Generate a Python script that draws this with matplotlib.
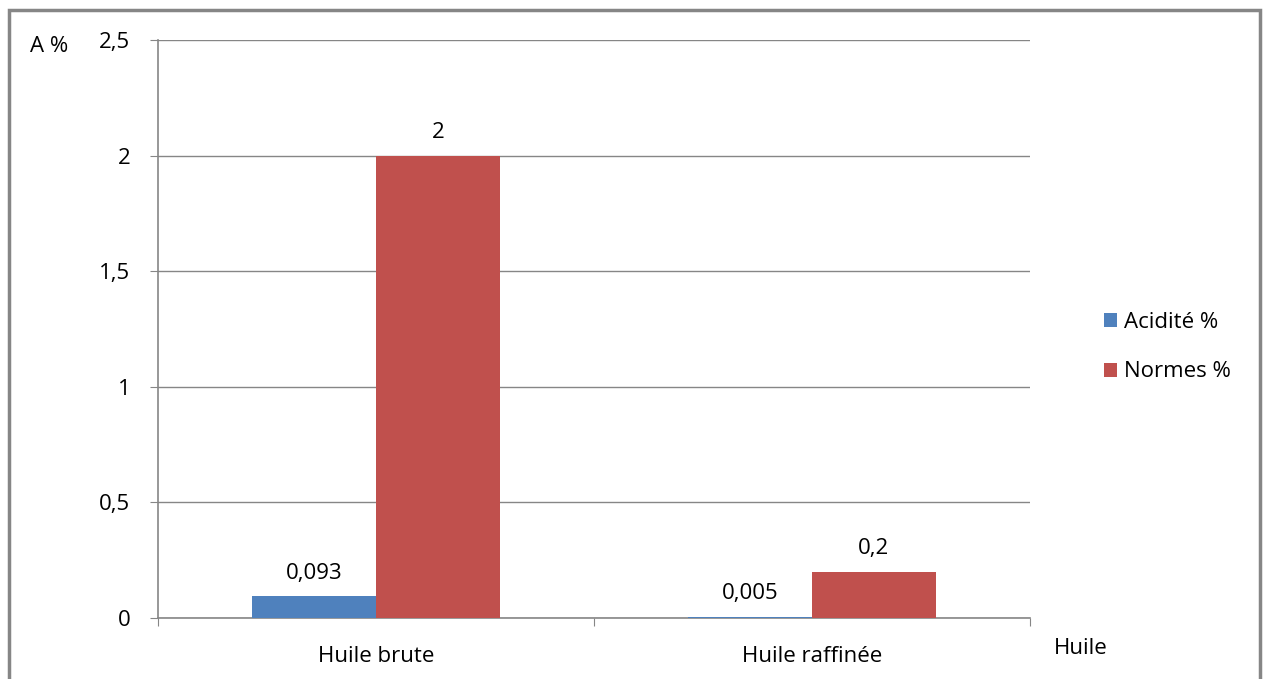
import matplotlib.pyplot as plt
from matplotlib.patches import Rectangle
import numpy as np

plt.rcParams['font.family'] = ['Open Sans', 'DejaVu Sans']

categories = ['Huile brute', 'Huile raffinée']
acidite = [0.093, 0.005]
normes = [2, 0.2]
acidite_labels = ['0,093', '0,005']
normes_labels = ['2', '0,2']
yticks = [0, 0.5, 1, 1.5, 2, 2.5]
ytick_labels = ['0', '0,5', '1', '1,5', '2', '2,5']

grey = '#868686'
blue = '#4F81BD'
red = '#C0504D'
fs = 16

fig = plt.figure(figsize=(12.63, 6.79), dpi=100)
ax = fig.add_axes([158/1263, 1-618/679, 872/1263, 578/679])

x = np.arange(len(categories))
w = 0.284
b1 = ax.bar(x - w/2, acidite, w, color=blue, label='Acidité %', zorder=3)
b2 = ax.bar(x + w/2, normes, w, color=red, label='Normes %', zorder=3)

for bars, labs in ((b1, acidite_labels), (b2, normes_labels)):
    for r, t in zip(bars, labs):
        ax.annotate(t, (r.get_x() + r.get_width()/2, r.get_height()),
                    xytext=(0, 9), textcoords='offset points',
                    ha='center', va='bottom', fontsize=fs)

ax.set_xlim(-0.5, 1.5)
ax.set_ylim(0, 2.5)
ax.set_yticks(yticks)
ax.set_yticklabels(ytick_labels, fontsize=fs)
ax.yaxis.grid(True, color=grey, linewidth=1, zorder=0)
ax.tick_params(axis='y', length=6, color=grey, pad=14)

# category labels between boundary ticks
ax.set_xticks([-0.5, 0.5, 1.5])
ax.set_xticklabels([])
ax.tick_params(axis='x', length=6, color=grey)
for xi, c in zip(x, categories):
    ax.text(xi, -0.165, c, ha='center', va='center', fontsize=fs,
            transform=ax.transData)

for s in ('top', 'right'):
    ax.spines[s].set_visible(False)
for s in ('left', 'bottom'):
    ax.spines[s].set_color(grey)
    ax.spines[s].set_linewidth(1.2)

fig.text(49/1263, 1-46/679, 'A %', ha='center', va='center', fontsize=fs)
fig.text(1081/1263, 1-648/679, 'Huile', ha='center', va='center', fontsize=fs)

ax.legend(loc='center left', bbox_to_anchor=(1084/1263, 1-347/679),
          bbox_transform=fig.transFigure, frameon=False, fontsize=fs,
          handlelength=0.6, handleheight=0.6, handletextpad=0.3,
          labelspacing=1.3)

fig.patches.append(Rectangle((9/1263, -0.1), 1251/1263, 1.1 - 10/679,
                             transform=fig.transFigure, fill=False,
                             edgecolor=grey, linewidth=2.5))

fig.savefig('out.png', dpi=100)
